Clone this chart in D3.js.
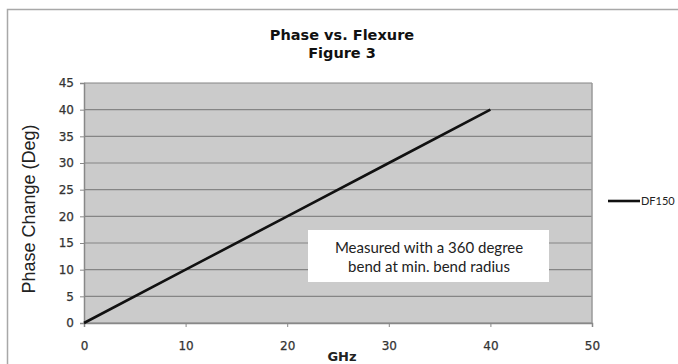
<!DOCTYPE html>
<html><head><meta charset="utf-8">
<script src="https://cdn.jsdelivr.net/npm/d3@7"></script>
<style>html,body{margin:0;padding:0;background:#fff;}svg{display:block;}</style>
</head><body>
<script>
const ghz = [0, 10, 20, 30, 40];
const phase = [0, 10, 20, 30, 40];
const xTicks = [0, 10, 20, 30, 40, 50];
const yTicks = [0, 5, 10, 15, 20, 25, 30, 35, 40, 45];
const seriesName = "DF150";
const titleLines = ["Phase vs. Flexure", "Figure 3"];
const noteLines = ["Measured with a 360 degree", "bend at min. bend radius"];

const W = 678, H = 364;
const svg = d3.select("body").append("svg").attr("width", W).attr("height", H);

// outer chart border
svg.append("rect").attr("x", 7.5).attr("y", 9.5).attr("width", W).attr("height", H)
  .attr("fill", "#fff").attr("stroke", "#a8a8a8").attr("stroke-width", 1.5);

const m = {l: 84, t: 83, r: 592, b: 323};
const x = d3.scaleLinear().domain([0, 50]).range([m.l, m.r]);
const y = d3.scaleLinear().domain([0, 45]).range([m.b, m.t]);

svg.append("rect").attr("x", m.l).attr("y", m.t).attr("width", m.r - m.l).attr("height", m.b - m.t)
  .attr("fill", "#cbcbcb");

// gridlines
svg.append("g").selectAll("line").data(yTicks).join("line")
  .attr("x1", m.l).attr("x2", m.r).attr("y1", d => y(d)).attr("y2", d => y(d))
  .attr("stroke", "#858585").attr("stroke-width", 1.2);

// plot border right
svg.append("line").attr("x1", m.r).attr("x2", m.r).attr("y1", m.t).attr("y2", m.b)
  .attr("stroke", "#9a9a9a").attr("stroke-width", 1.5);

// axes
const yAxis = d3.axisLeft(y).tickValues(yTicks).tickSize(4).tickPadding(6);
const gy = svg.append("g").attr("transform", `translate(${m.l},0)`).call(yAxis);
const xAxis = d3.axisBottom(x).tickValues(xTicks).tickSize(4).tickPadding(14);
const gx = svg.append("g").attr("transform", `translate(0,${m.b})`).call(xAxis);
[gx, gy].forEach(g => {
  g.select(".domain").attr("stroke", "#888").attr("stroke-width", 1.5);
  g.selectAll(".tick line").attr("stroke", "#888");
  g.selectAll("text").attr("font-family", "DejaVu Sans, Verdana, sans-serif")
    .attr("font-size", 12).attr("fill", "#333").attr("stroke", "#333").attr("stroke-width", 0.25);
});

// series line
const line = d3.line().x((d, i) => x(ghz[i])).y(d => y(d));
svg.append("path").datum(phase).attr("d", line).attr("fill", "none")
  .attr("stroke", "#111").attr("stroke-width", 2.6);

// titles
svg.append("g").selectAll("text").data(titleLines).join("text")
  .attr("x", 342).attr("y", (d, i) => 40 + i * 18).attr("text-anchor", "middle")
  .attr("font-family", "DejaVu Sans, Verdana, sans-serif").attr("font-weight", "bold")
  .attr("font-size", 14.5).attr("fill", "#111").text(d => d);

svg.append("text").attr("x", 342).attr("y", 361).attr("text-anchor", "middle")
  .attr("font-family", "DejaVu Sans, Verdana, sans-serif").attr("font-weight", "bold")
  .attr("font-size", 13).attr("fill", "#222").text("GHz");

svg.append("text").attr("transform", "translate(35,209) rotate(-90)").attr("text-anchor", "middle")
  .attr("font-family", "Liberation Sans, Arial, sans-serif")
  .attr("font-size", 18).attr("fill", "#222").text("Phase Change (Deg)");

// annotation box
svg.append("rect").attr("x", 308).attr("y", 230).attr("width", 241).attr("height", 52).attr("fill", "#fff");
svg.append("g").selectAll("text").data(noteLines).join("text")
  .attr("x", 429).attr("y", (d, i) => 253 + i * 19).attr("text-anchor", "middle")
  .attr("font-family", "Lato, Open Sans, sans-serif").attr("font-size", 15).attr("fill", "#222").text(d => d);

// legend
svg.append("line").attr("x1", 608).attr("x2", 640).attr("y1", 201).attr("y2", 201)
  .attr("stroke", "#111").attr("stroke-width", 2.6);
svg.append("text").attr("x", 641).attr("y", 205)
  .attr("font-family", "Lato, Open Sans, sans-serif").attr("font-size", 11).attr("fill", "#222").text(seriesName);
</script>
</body></html>
